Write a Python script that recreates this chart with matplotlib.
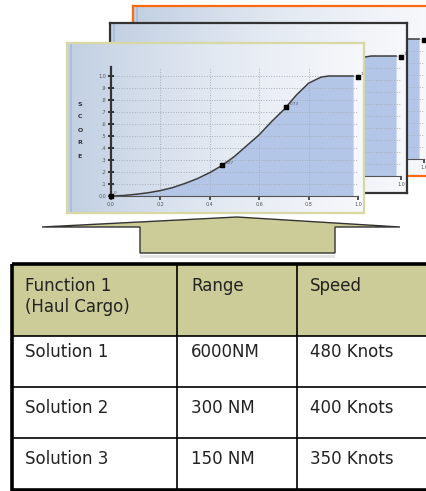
import numpy as np
import matplotlib.pyplot as plt
from matplotlib.colors import LinearSegmentedColormap
from matplotlib.patches import Rectangle, Polygon

# figure size in pixels
W, H = 427, 491

# score curve
score_x = [0.0, 0.05, 0.1, 0.15, 0.2, 0.25, 0.3, 0.35, 0.4, 0.45,
           0.5, 0.55, 0.6, 0.65, 0.7, 0.75, 0.8, 0.85, 0.88, 0.98]
score_y = [0.0, 0.004, 0.014, 0.027, 0.045, 0.07, 0.105, 0.145, 0.195, 0.255,
           0.33, 0.42, 0.51, 0.62, 0.72, 0.84, 0.94, 0.99, 1.0, 1.0]
marker_x = [0.0, 0.45, 0.71, 1.0]
marker_y = [0.0, 0.255, 0.74, 0.99]
marker_labels = ["0", "0.27", "0.73", "1"]
ytick_labels = ["0.0", ".1", ".2", ".3", ".4", ".5", ".6", ".7", ".8", ".9", "1.0"]
xtick_labels = ["0.0", "0.2", "0.4", "0.6", "0.8", "1.0"]

table_header = ["Function 1\n(Haul Cargo)", "Range", "Speed"]
table_rows = [["Solution 1", "6000NM", "480 Knots"],
              ["Solution 2", "300 NM", "400 Knots"],
              ["Solution 3", "150 NM", "350 Knots"]]

# cards drawn back to front
card_origins = [(133, 6), (110, 23), (67, 43)]
card_edges = ["#ff6a10", "#333333", "#d8d8a4"]
CARD_W, CARD_H = 297, 170

bg_cmap = LinearSegmentedColormap.from_list("card", ["#c2d0e3", "#e3e9f2", "#f7f8fb"])


def fig_rect(x, y, w, h):
    return [x / W, 1 - (y + h) / H, w / W, h / H]


fig = plt.figure(figsize=(W / 100, H / 100), dpi=100)

for i, ((cx, cy), ec) in enumerate(zip(card_origins, card_edges)):
    card = fig.add_axes(fig_rect(cx, cy, CARD_W, CARD_H), zorder=1 + 2 * i)
    card.imshow(np.linspace(0, 1, 256)[None, :], cmap=bg_cmap, extent=[0, 1, 0, 1],
                aspect="auto")
    card.axvline(4 / CARD_W, color="#a8bcd8", lw=1.2)
    card.set_xlim(0, 1)
    card.set_ylim(0, 1)
    card.set_xticks([])
    card.set_yticks([])
    for s in card.spines.values():
        s.set_color(ec)
        s.set_linewidth(1.6)
    for k, letter in enumerate("SCORE"):
        card.text(13 / CARD_W, 1 - (61 + 13 * k) / CARD_H, letter, fontsize=4.5,
                  fontweight="bold", color="#333333", ha="center", va="center")

    ax = fig.add_axes(fig_rect(cx + 44, cy + 24, 247, 129), zorder=2 + 2 * i)
    ax.patch.set_alpha(0)
    ax.fill_between(score_x, score_y, color="#b4c6e7", lw=0)
    ax.plot(score_x, score_y, color="#3c3c3c", lw=1.1)
    ax.scatter(marker_x, marker_y, s=10, marker="s", color="black", zorder=5, clip_on=False)
    for mx, my, lab in zip(marker_x, marker_y, marker_labels):
        ax.text(mx + 0.012, my + 0.015, lab, fontsize=3, color="#555555")
    ax.set_xlim(0, 1)
    ax.set_ylim(0, 1.075)
    ax.set_yticks(np.arange(11) / 10)
    ax.set_yticklabels(ytick_labels)
    ax.set_xticks(np.arange(6) / 5)
    ax.set_xticklabels(xtick_labels)
    ax.grid(True, linestyle=":", color="#a6adbb", lw=0.7)
    ax.tick_params(axis="y", direction="inout", length=5, width=1.4, color="#333333",
                   labelsize=3.5, labelcolor="#555555", pad=1)
    ax.tick_params(axis="x", direction="out", length=3, width=1.2, color="#333333",
                   labelsize=3.5, labelcolor="#555555", pad=1.5)
    ax.spines["top"].set_visible(False)
    ax.spines["right"].set_visible(False)
    ax.spines["left"].set_linewidth(1.6)
    ax.spines["left"].set_color("#333333")
    ax.spines["bottom"].set_linewidth(0.8)
    ax.spines["bottom"].set_color("#555555")

# canvas for the arrow and the table, in pixel coordinates
canvas = fig.add_axes([0, 0, 1, 1], zorder=0)
canvas.set_xlim(0, W)
canvas.set_ylim(H, 0)
canvas.axis("off")

arrow = Polygon([(42, 227), (237, 217), (400, 227), (335, 227), (335, 253),
                 (140, 253), (140, 227)], closed=True, facecolor="#cccc99",
                edgecolor="#333333", lw=1)
canvas.add_patch(arrow)
canvas.add_patch(Rectangle((140, 255), 195, 3, facecolor="#e4e4e4", lw=0))

# table
col_x = [12, 177, 297, 432]
row_y = [264, 336, 387, 438, 490]
canvas.add_patch(Rectangle((col_x[0], row_y[0]), col_x[-1] - col_x[0], row_y[1] - row_y[0],
                           facecolor="#cccc99", lw=0))
for x in col_x[1:-1]:
    canvas.plot([x, x], [row_y[0], row_y[-1]], color="black", lw=1.2)
for y in row_y[1:-1]:
    canvas.plot([col_x[0], col_x[-1]], [y, y], color="black", lw=1.2)
canvas.add_patch(Rectangle((col_x[0], row_y[0]), col_x[-1] - col_x[0], row_y[-1] - row_y[0],
                           facecolor="none", edgecolor="black", lw=2.6))

text_x = [25, 191, 310]
text_style = dict(fontsize=12, color="#222222", family="DejaVu Sans", va="baseline")
for j, head in enumerate(table_header):
    for k, line in enumerate(head.split("\n")):
        canvas.text(text_x[j], 291 + 21 * k, line, **text_style)
row_base = [357, 413, 464]
for row, yb in zip(table_rows, row_base):
    for j, cell in enumerate(row):
        canvas.text(text_x[j], yb, cell, **text_style)

fig.savefig("out.png", dpi=100)
